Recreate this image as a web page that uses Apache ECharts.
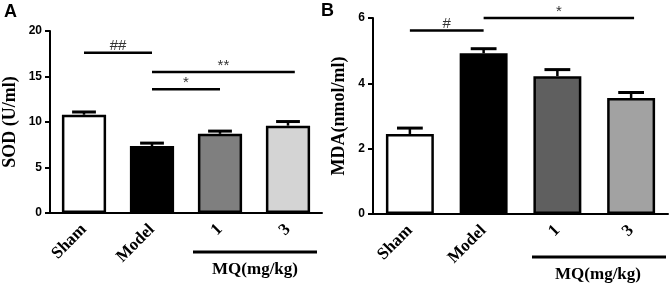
<!DOCTYPE html>
<html>
<head>
<meta charset="utf-8">
<script src="https://cdn.jsdelivr.net/npm/echarts@6/dist/echarts.min.js"></script>
<style>html,body{margin:0;padding:0;background:#fff;}#c{width:671px;height:287px;}</style>
</head>
<body>
<div id="c"></div>
<script>
const categories = ['Sham', 'Model', '1', '3'];
const sodMean = [10.8, 7.35, 8.7, 9.6];
const sodErr = [0.3, 0.33, 0.3, 0.45];
const mdaMean = [2.45, 4.92, 4.22, 3.55];
const mdaErr = [0.18, 0.14, 0.2, 0.17];
const sodColors = ['#ffffff', '#000000', '#7f7f7f', '#d4d4d4'];
const mdaColors = ['#ffffff', '#000000', '#5f5f5f', '#a2a2a2'];
// [fromCategory, toCategory, yValue, label]
const sodSig = [[0, 1, 17.6, '##'], [1, 2, 13.6, '*'], [1, 3.1, 15.5, '**']];
const mdaSig = [[0, 1, 5.62, '#'], [1, 3.04, 6.0, '*']];
const sodTicks = { min: 0, max: 20, interval: 5 };
const mdaTicks = { min: 0, max: 6, interval: 2 };
const sodTitle = 'SOD (U/ml)';
const mdaTitle = 'MDA(nmol/ml)';
const groupLabel = 'MQ(mg/kg)';

const SANS = 'Liberation Sans, Arial, sans-serif';
const SERIF = 'Liberation Serif, Times New Roman, serif';

function xAxis(gi) {
  return {
    type: 'category', gridIndex: gi, data: categories,
    axisLine: { lineStyle: { color: '#000', width: 2 } },
    axisTick: { alignWithLabel: true, length: 5, lineStyle: { color: '#000', width: 2 } },
    axisLabel: { rotate: 45, margin: 14, color: '#000', fontFamily: SERIF, fontWeight: 'bold', fontSize: 17 },
    splitLine: { show: false }
  };
}
function yAxis(gi, t, name, gap) {
  return {
    type: 'value', gridIndex: gi, min: t.min, max: t.max, interval: t.interval,
    name: name, nameLocation: 'middle', nameGap: gap, nameRotate: 90,
    nameTextStyle: { color: '#000', fontFamily: SERIF, fontWeight: 'bold', fontSize: 18 },
    axisLine: { show: true, lineStyle: { color: '#000', width: 2 } },
    axisTick: { show: true, length: 5, lineStyle: { color: '#000', width: 2 } },
    axisLabel: { margin: 8, color: '#000', fontFamily: SANS, fontWeight: 'bold', fontSize: 12 },
    splitLine: { show: false }
  };
}
function bars(gi, means, colors) {
  return {
    type: 'bar', xAxisIndex: gi, yAxisIndex: gi, barWidth: '65%', z: 2,
    data: means.map((v, i) => ({ value: v, itemStyle: { color: colors[i] } })),
    itemStyle: { borderColor: '#000', borderWidth: 2.5 },
    silent: true, animation: false
  };
}
function errBars(gi, means, errs) {
  return {
    type: 'custom', xAxisIndex: gi, yAxisIndex: gi, z: 3, animation: false, silent: true,
    encode: { x: 0, y: 1 },
    data: means.map((v, i) => [i, v, errs[i]]),
    renderItem: function (params, api) {
      const i = api.value(0), m = api.value(1), e = api.value(2);
      const base = api.coord([i, m]);
      const top = api.coord([i, m + e]);
      const hw = api.size([1, 0])[0] * 0.175;
      return {
        type: 'group', children: [
          { type: 'line', shape: { x1: base[0], y1: base[1], x2: top[0], y2: top[1] }, style: { stroke: '#000', lineWidth: 2.5 } },
          { type: 'line', shape: { x1: top[0] - hw, y1: top[1], x2: top[0] + hw, y2: top[1] }, style: { stroke: '#000', lineWidth: 3 } }
        ]
      };
    }
  };
}
function sigBars(gi, sig) {
  return {
    type: 'custom', xAxisIndex: gi, yAxisIndex: gi, z: 4, animation: false, silent: true, clip: false,
    encode: { x: 0, y: 2 },
    data: sig.map(s => [s[0], s[1], s[2], s[3]]),
    renderItem: function (params, api) {
      const bw = api.size([1, 0])[0];
      function px(v, y) {
        const f = Math.floor(v);
        const p = api.coord([f, y]);
        return [p[0] + (v - f) * bw, p[1]];
      }
      const a = px(api.value(0), api.value(2));
      const b = px(api.value(1), api.value(2));
      const label = sig[params.dataIndex][3];
      return {
        type: 'group', children: [
          { type: 'line', shape: { x1: a[0], y1: a[1], x2: b[0], y2: b[1] }, style: { stroke: '#000', lineWidth: 2.5 } },
          { type: 'text', x: (a[0] + b[0]) / 2, y: a[1] + 1,
            style: { text: label, fill: '#333', font: '15px ' + SANS, align: 'center', verticalAlign: 'bottom' } }
        ]
      };
    }
  };
}

const chart = echarts.init(document.getElementById('c'), null, { renderer: 'canvas' });
chart.setOption({
  animation: false,
  backgroundColor: '#fff',
  grid: [
    { left: 47, top: 31, width: 275, height: 182 },
    { left: 373, top: 18, width: 295, height: 196 }
  ],
  xAxis: [xAxis(0), xAxis(1)],
  yAxis: [yAxis(0, sodTicks, sodTitle, 31), yAxis(1, mdaTicks, mdaTitle, 25)],
  series: [
    bars(0, sodMean, sodColors), errBars(0, sodMean, sodErr), sigBars(0, sodSig),
    bars(1, mdaMean, mdaColors), errBars(1, mdaMean, mdaErr), sigBars(1, mdaSig)
  ],
  graphic: [
    { type: 'text', left: 4, top: 3, style: { text: 'A', font: 'bold 18px ' + SANS, fill: '#000' } },
    { type: 'text', left: 321, top: 2, style: { text: 'B', font: 'bold 18px ' + SANS, fill: '#000' } },
    { type: 'line', shape: { x1: 193, y1: 252, x2: 317, y2: 252 }, style: { stroke: '#000', lineWidth: 3 } },
    { type: 'text', x: 255, y: 270, style: { text: groupLabel, font: 'bold 17px ' + SERIF, fill: '#000', align: 'center', verticalAlign: 'middle' } },
    { type: 'line', shape: { x1: 532, y1: 257, x2: 666, y2: 257 }, style: { stroke: '#000', lineWidth: 3 } },
    { type: 'text', x: 598, y: 275, style: { text: groupLabel, font: 'bold 17px ' + SERIF, fill: '#000', align: 'center', verticalAlign: 'middle' } }
  ]
});
</script>
</body>
</html>
